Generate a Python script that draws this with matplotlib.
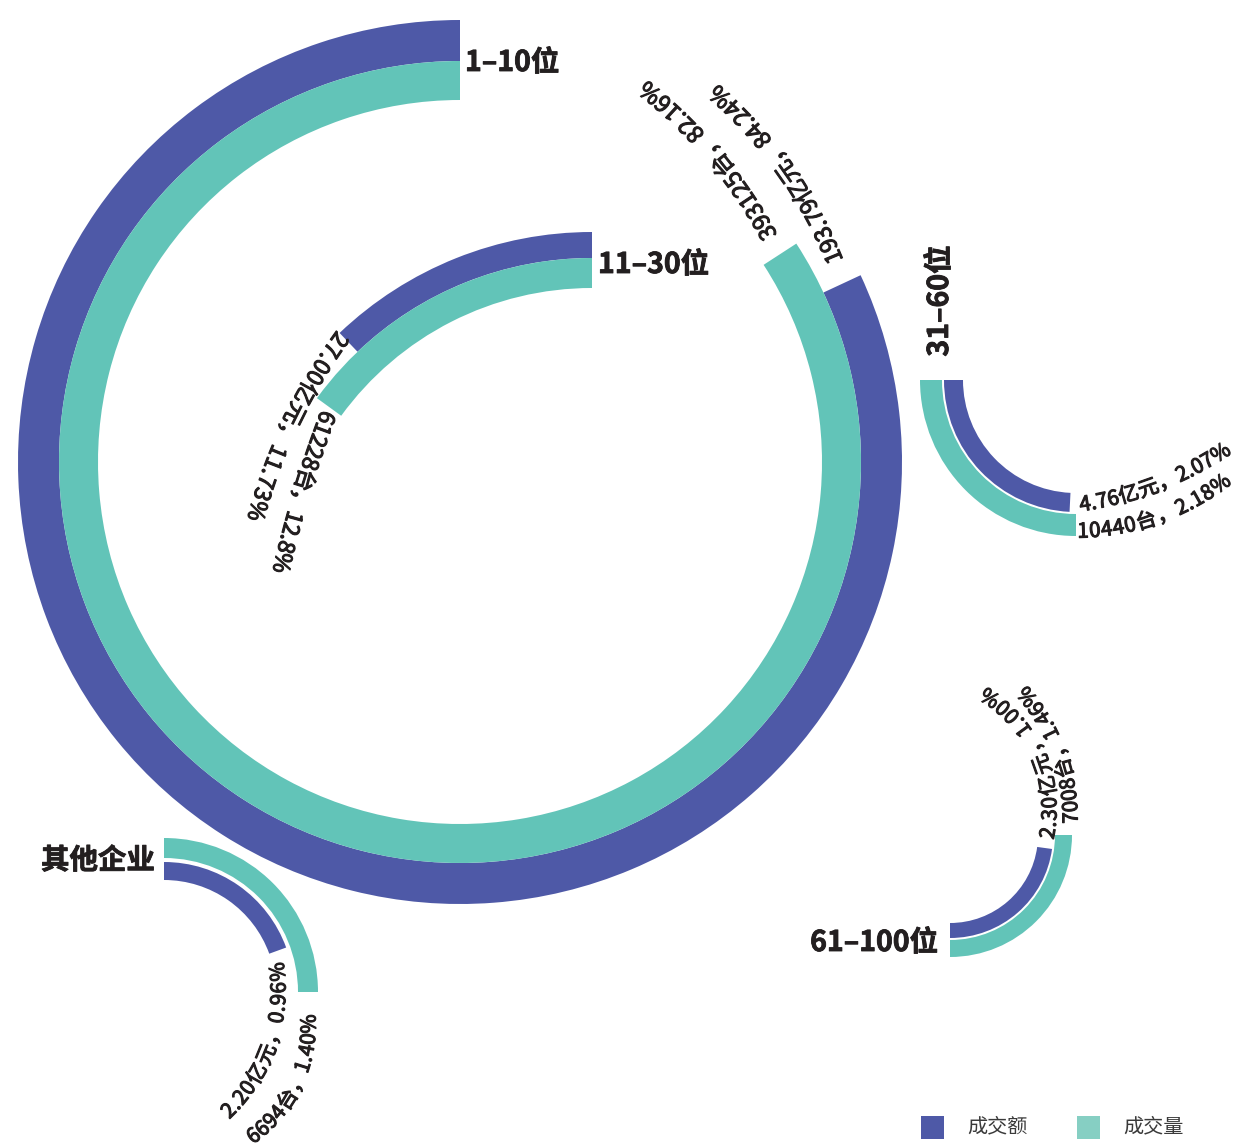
import numpy as np
import matplotlib
matplotlib.use('Agg')
import matplotlib.pyplot as plt
import matplotlib.patheffects as pe
from matplotlib.patches import Wedge, Rectangle
from matplotlib.font_manager import FontProperties
from matplotlib.textpath import TextToPath

plt.rcParams['font.family'] = ['Noto Sans CJK SC', 'DejaVu Sans']

# ---------------- data ----------------
groups = ['1–10位', '11–30位', '31–60位', '61–100位', '其他企业']
amount_yi = [193.79, 27.00, 4.76, 2.30, 2.20]          # 成交额 (亿元)
amount_pct = [84.24, 11.73, 2.07, 1.00, 0.96]
units = [393125, 61228, 10440, 7008, 6694]             # 成交量 (台)
units_pct = [82.16, 12.8, 2.18, 1.46, 1.40]
units_pct_decimals = [2, 1, 2, 2, 2]
series = ['成交额', '成交量']

# ---------------- layout (pixel coords, y down) ----------------
W, H = 1235, 1148
PURPLE = '#4E59A7'
TEAL = '#62C4B8'
TEAL_LEG = '#86CFC3'
DARK = '#231F20'
LABEL_EFFECT = [pe.withStroke(linewidth=0.8, foreground=DARK)]

# ring centre, (r_in, r_out, theta1, theta2) for amount ring and units ring
rings = [
    dict(c=(460, 462), amt=(401, 442, 90, 385), uni=(362, 401, 90, 393)),
    dict(c=(592, 598), amt=(340, 366, 90, 133.6), uni=(310, 340, 90, 144)),
    dict(c=(1076, 380), amt=(113, 132, 180, 267.2), uni=(134, 156, 180, 270)),
    dict(c=(950, 835), amt=(88, 103, 270, 352.2), uni=(105, 122, 270, 360)),
    dict(c=(164, 992), amt=(112, 130, 20, 90), uni=(134, 154, 0, 90)),
]
# curved label guide points (first glyph centre, middle glyph, last glyph centre)
label_paths = [
    dict(amt=((833, 257), (797, 188), (720, 97)), uni=((767, 233), (726, 171), (650, 93)), fs=23),
    dict(amt=((340, 340), (295, 415), (258, 511)), uni=((327, 418), (305, 482), (283, 563)), fs=22.5),
    dict(amt=((1085, 503), (1148, 487), (1220, 452)), uni=((1083, 530), (1145, 520), (1220, 483)), fs=20.5),
    dict(amt=((1047, 833), (1042, 767), (990, 698)), uni=((1070, 818), (1063, 767), (1027, 697)), fs=20.5),
    dict(amt=((228, 1110), (267, 1050), (277, 972)), uni=((253, 1135), (288, 1097), (308, 1024)), fs=20.5),
]
titles = [
    dict(xy=(465, 63), ha='left', rot=0),
    dict(xy=(598, 265), ha='left', rot=0),
    dict(xy=(940, 301), ha='center', rot=90),
    dict(xy=(938, 943), ha='right', rot=0),
    dict(xy=(155, 861), ha='right', rot=0),
]
TITLE_FS = 20.5  # pt

fig = plt.figure(figsize=(W / 100, H / 100), dpi=100)
ax = fig.add_axes([0, 0, 1, 1])
ax.set_xlim(0, W)
ax.set_ylim(0, H)
ax.set_aspect('equal')
ax.axis('off')


def P(p):
    return (p[0], H - p[1])


t2p = TextToPath()


def circle3(p1, p2, p3):
    (x1, y1), (x2, y2), (x3, y3) = p1, p2, p3
    d = 2 * (x1 * (y2 - y3) + x2 * (y3 - y1) + x3 * (y1 - y2))
    ux = ((x1**2 + y1**2) * (y2 - y3) + (x2**2 + y2**2) * (y3 - y1) + (x3**2 + y3**2) * (y1 - y2)) / d
    uy = ((x1**2 + y1**2) * (x3 - x2) + (x2**2 + y2**2) * (x1 - x3) + (x3**2 + y3**2) * (x2 - x1)) / d
    return ux, uy, np.hypot(x1 - ux, y1 - uy)


def curved_text(text, pts, fs_px, color=DARK):
    S, M, E = [P(p) for p in pts]
    cx, cy, R = circle3(S, M, E)
    aS = np.arctan2(S[1] - cy, S[0] - cx)
    aM = np.arctan2(M[1] - cy, M[0] - cx)
    aE = np.arctan2(E[1] - cy, E[0] - cx)
    ccw = lambda a, b: (b - a) % (2 * np.pi)
    if ccw(aS, aM) < ccw(aS, aE):
        sign, span = 1, ccw(aS, aE)
    else:
        sign, span = -1, ccw(aE, aS)
    L = R * span
    prop = FontProperties(family='Noto Sans CJK SC', size=fs_px)
    widths = [t2p.get_text_width_height_descent(ch, prop, ismath=False)[0] for ch in text]
    centers = [0.0]
    for i in range(1, len(text)):
        centers.append(centers[-1] + (widths[i - 1] + widths[i]) / 2)
    k = L / centers[-1]
    for ch, c in zip(text, centers):
        a = aS + sign * c * k / R
        px, py = cx + R * np.cos(a), cy + R * np.sin(a)
        tang = a + sign * np.pi / 2
        up = tang + np.pi / 2
        bx = px - 0.37 * fs_px * np.cos(up)
        by = py - 0.37 * fs_px * np.sin(up)
        ax.text(bx, by, ch, rotation=np.degrees(tang), rotation_mode='anchor',
                ha='center', va='baseline', fontsize=fs_px * 0.72, color=color,
                path_effects=LABEL_EFFECT)


for i, g in enumerate(groups):
    ring = rings[i]
    c = P(ring['c'])
    for key, col in (('amt', PURPLE), ('uni', TEAL)):
        r_in, r_out, t1, t2 = ring[key]
        ax.add_patch(Wedge(c, r_out, t1, t2, width=r_out - r_in, facecolor=col,
                           edgecolor='none', antialiased=True))
    amt_lbl = f"{amount_yi[i]:.2f}亿元，{amount_pct[i]:.2f}%"
    uni_lbl = f"{units[i]}台，{units_pct[i]:.{units_pct_decimals[i]}f}%"
    lp = label_paths[i]
    curved_text(amt_lbl, lp['amt'], lp['fs'])
    curved_text(uni_lbl, lp['uni'], lp['fs'])
    t = titles[i]
    x, y = P(t['xy'])
    ax.text(x, y, g, ha=t['ha'], va='center', rotation=t['rot'], fontsize=TITLE_FS,
            fontweight='bold', color=DARK,
            path_effects=[pe.withStroke(linewidth=0.6, foreground=DARK)])

# legend
leg_x = [921, 1077]
for j, (name, col) in enumerate(zip(series, [PURPLE, TEAL_LEG])):
    x0 = leg_x[j]
    ax.add_patch(Rectangle((x0, H - 1139), 23, 23, facecolor=col, edgecolor='none'))
    ax.text(x0 + 46, H - 1127, name, ha='left', va='center', fontsize=14.5, color='#3A3A3A')

fig.savefig('out.png', dpi=100)
